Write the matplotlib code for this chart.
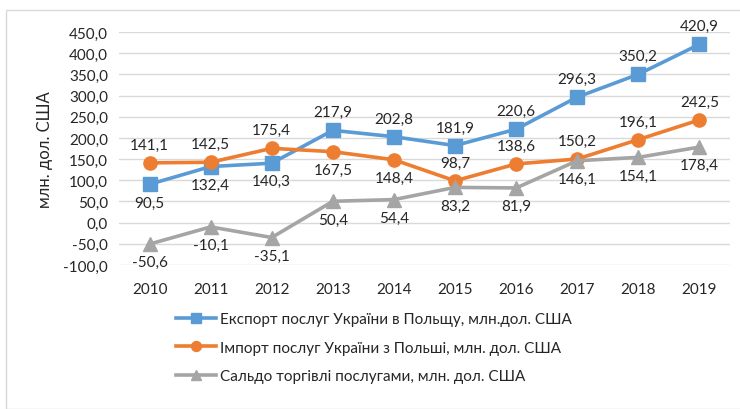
import matplotlib.pyplot as plt
from matplotlib.patches import Rectangle

plt.rcParams['font.family'] = ['Lato', 'DejaVu Sans']

years = ['2010', '2011', '2012', '2013', '2014', '2015', '2016', '2017', '2018', '2019']
export = [90.5, 132.4, 140.3, 217.9, 202.8, 181.9, 220.6, 296.3, 350.2, 420.9]
imports = [141.1, 142.5, 175.4, 167.5, 148.4, 98.7, 138.6, 150.2, 196.1, 242.5]
saldo = [-50.6, -10.1, -35.1, 50.4, 54.4, 83.2, 81.9, 146.1, 154.1, 178.4]

# label placement: 1 = above, -1 = below
export_pos = [-1, -1, -1, 1, 1, 1, 1, 1, 1, 1]
import_pos = [1, 1, 1, -1, -1, 1, 1, 1, 1, 1]
saldo_pos = [-1] * 10

names = ['Експорт послуг України в Польщу, млн.дол. США',
         'Імпорт послуг України з Польші, млн. дол. США',
         'Сальдо торгівлі послугами, млн. дол. США']

fig = plt.figure(figsize=(7.4, 4.1), dpi=100)
ax = fig.add_axes([119 / 740, 1 - 266 / 410, 611 / 740, 233 / 410])

# frame around the whole chart
fig.patches.append(Rectangle((6 / 740, 0), 1, 1 - 11 / 410, transform=fig.transFigure,
                             fill=False, edgecolor='#d9d9d9', lw=1))

x = range(len(years))
series = [(export, export_pos, '#5b9bd5', 's'),
          (imports, import_pos, '#ed7d31', 'o'),
          (saldo, saldo_pos, '#a5a5a5', '^')]

for (vals, pos, col, mk), name in zip(series, names):
    ax.plot(x, vals, color=col, lw=2.6, marker=mk, markersize=9.5, label=name, zorder=3)
    for i, (v, p) in enumerate(zip(vals, pos)):
        ax.annotate(f'{v:.1f}'.replace('.', ','), (i, v), xytext=(0, 8 * p),
                    textcoords='offset points', ha='center',
                    va='bottom' if p > 0 else 'top', fontsize=11, color='#262626')

ax.set_xlim(-0.5, 9.5)
ax.set_ylim(-100, 450)
ax.set_yticks(range(-100, 451, 50))
ax.set_yticklabels([f'{t:.1f}'.replace('.', ',') for t in range(-100, 451, 50)])
ax.set_xticks(list(x))
ax.set_xticklabels(years)
ax.tick_params(length=0, labelsize=11, colors='#262626')
ax.tick_params(axis='x', pad=12)
ax.tick_params(axis='y', pad=8)
ax.grid(axis='y', color='#d9d9d9', lw=1)
ax.set_axisbelow(True)
for s in ax.spines.values():
    s.set_visible(False)
ax.set_ylabel('млн. дол. США', fontsize=12, color='#262626', labelpad=7)

fig.legend(loc='upper left', bbox_to_anchor=(176 / 740, 1 - 313 / 410), frameon=False,
           fontsize=11, handlelength=2.6, handletextpad=0.3, labelspacing=0.95,
           markerscale=0.75, borderaxespad=0, borderpad=0, labelcolor='#262626')

fig.savefig('out.png', dpi=100)
